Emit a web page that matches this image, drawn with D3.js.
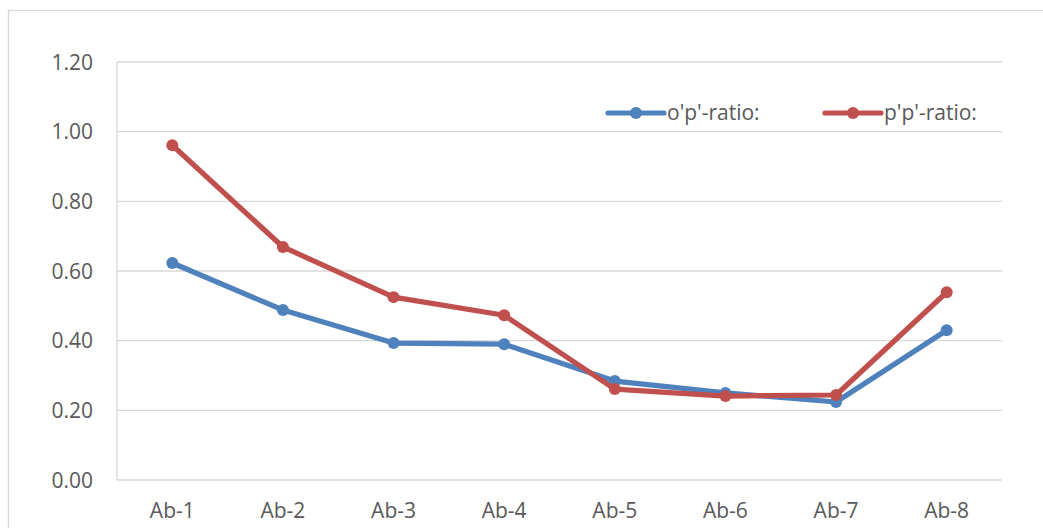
<!DOCTYPE html>
<html>
<head>
<meta charset="utf-8">
<script src="https://cdn.jsdelivr.net/npm/d3@7"></script>
<style>
  html, body { margin: 0; padding: 0; background: #fff; }
  svg { display: block; font-family: "Open Sans", "Noto Sans", sans-serif; }
</style>
</head>
<body>
<svg id="chart" width="1043" height="528"></svg>
<script>
// Antibody labels along the x axis
const categories = ["Ab-1", "Ab-2", "Ab-3", "Ab-4", "Ab-5", "Ab-6", "Ab-7", "Ab-8"];
// Isomer ratios per antibody
const opRatio = [0.623, 0.488, 0.393, 0.390, 0.284, 0.250, 0.224, 0.430];
const ppRatio = [0.961, 0.669, 0.525, 0.473, 0.261, 0.241, 0.244, 0.539];
const seriesNames = ["o'p'-ratio:", "p'p'-ratio:"];
const yTicks = [0, 0.2, 0.4, 0.6, 0.8, 1.0, 1.2];

const series = [
  { name: seriesNames[0], values: opRatio, color: "#4F81BD" },
  { name: seriesNames[1], values: ppRatio, color: "#C0504D" }
];

const svg = d3.select("#chart");
const plot = { left: 117, right: 1002, top: 62, bottom: 480 };
const gridColor = "#d9d9d9";
const textColor = "#595959";
const fontSize = 21;

// Chart frame
svg.append("rect")
  .attr("x", 8.5).attr("y", 10.5)
  .attr("width", 1100).attr("height", 600)
  .attr("fill", "none").attr("stroke", gridColor).attr("stroke-width", 1.3);

const x = d3.scaleBand().domain(categories).range([plot.left, plot.right]);
const y = d3.scaleLinear().domain([0, 1.2]).range([plot.bottom, plot.top]);

// Horizontal gridlines
svg.append("g").selectAll("line").data(yTicks).join("line")
  .attr("x1", plot.left).attr("x2", plot.right)
  .attr("y1", d => y(d)).attr("y2", d => y(d))
  .attr("stroke", gridColor).attr("stroke-width", 1.4);

// Left axis line
svg.append("line")
  .attr("x1", plot.left).attr("x2", plot.left)
  .attr("y1", plot.top).attr("y2", plot.bottom)
  .attr("stroke", gridColor).attr("stroke-width", 1.4);

// Y axis labels
const yAxis = d3.axisLeft(y).tickValues(yTicks).tickFormat(d3.format(".2f")).tickSize(0).tickPadding(24);
const gy = svg.append("g").attr("transform", `translate(${plot.left},0)`).call(yAxis);
gy.select(".domain").remove();
gy.selectAll("text").attr("fill", textColor).attr("font-size", fontSize)
  .attr("font-family", "'Open Sans', sans-serif").attr("dy", "0.34em");

// X axis labels
const xAxis = d3.axisBottom(x).tickSize(0).tickPadding(23);
const gx = svg.append("g").attr("transform", `translate(0,${plot.bottom})`).call(xAxis);
gx.select(".domain").remove();
gx.selectAll("text").attr("fill", textColor).attr("font-size", fontSize)
  .attr("font-family", "'Open Sans', sans-serif").attr("dy", "0.71em");

const cx = c => x(c) + x.bandwidth() / 2;
const line = d3.line().x((d, i) => cx(categories[i])).y(d => y(d));

// Series lines and markers
series.forEach(s => {
  const g = svg.append("g");
  g.append("path").datum(s.values)
    .attr("d", line).attr("fill", "none")
    .attr("stroke", s.color).attr("stroke-width", 5.2)
    .attr("stroke-linejoin", "round").attr("stroke-linecap", "round");
  g.selectAll("circle").data(s.values).join("circle")
    .attr("cx", (d, i) => cx(categories[i])).attr("cy", d => y(d))
    .attr("r", 6).attr("fill", s.color);
});

// Legend
const legendItems = [{ x: 608 }, { x: 825 }];
series.forEach((s, i) => {
  const lx = legendItems[i].x, ly = 113;
  const g = svg.append("g");
  g.append("line").attr("x1", lx).attr("x2", lx + 56).attr("y1", ly).attr("y2", ly)
    .attr("stroke", s.color).attr("stroke-width", 5.2).attr("stroke-linecap", "round");
  g.append("circle").attr("cx", lx + 28).attr("cy", ly).attr("r", 6).attr("fill", s.color);
  g.append("text").attr("x", lx + 59).attr("y", ly).attr("dy", "0.34em")
    .attr("font-size", fontSize).attr("fill", textColor).text(s.name);
});
</script>
</body>
</html>
